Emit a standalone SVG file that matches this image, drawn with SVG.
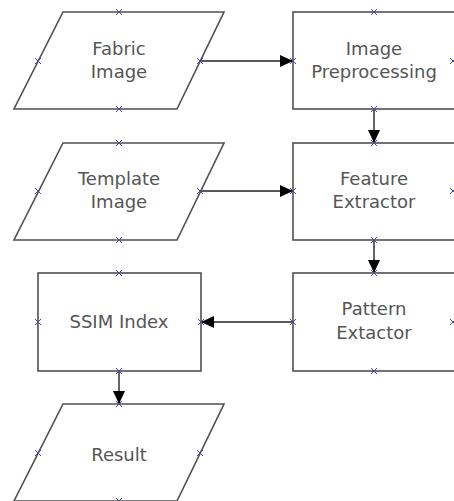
<svg xmlns="http://www.w3.org/2000/svg" width="454" height="501" viewBox="0 0 454 501">
<style>
.shape{fill:#fff;stroke:#505050;stroke-width:1.6}
.lbl{font-family:"DejaVu Sans","Liberation Sans",sans-serif;font-size:18px;fill:#555;text-anchor:middle}
.pt{stroke:#4646a8;stroke-width:1;fill:none}
.conn{stroke:#222;stroke-width:1.4;fill:none;marker-end:url(#ah)}
</style>
<defs>
<marker id="ah" markerUnits="userSpaceOnUse" markerWidth="14" markerHeight="12" refX="13" refY="6" orient="auto">
<path d="M0,0 L13,6 L0,12 z" fill="#000"/>
</marker>
<path id="x" d="M-3,-3 L3,3 M-3,3 L3,-3"/>
</defs>
<rect width="454" height="501" fill="#fff"/>
<g id="connectors">
<line class="conn" x1="200" y1="61" x2="293" y2="61"/>
<line class="conn" x1="200" y1="191" x2="293" y2="191"/>
<line class="conn" x1="374" y1="109" x2="374" y2="143"/>
<line class="conn" x1="374" y1="240" x2="374" y2="273"/>
<line class="conn" x1="293" y1="322" x2="201" y2="322"/>
<line class="conn" x1="119" y1="371" x2="119" y2="404"/>
</g>
<g id="fabric">
<polygon class="shape" points="63,12 224,12 177,109 14,109"/>
<text class="lbl" x="119" y="55">Fabric</text>
<text class="lbl" x="119" y="78">Image</text>
<g class="pt"><use href="#x" x="119" y="12"/><use href="#x" x="119" y="109"/><use href="#x" x="38" y="61"/><use href="#x" x="200" y="61"/></g>
</g>
<g id="preprocessing">
<rect class="shape" x="293" y="12" width="163" height="97"/>
<text class="lbl" x="374" y="55">Image</text>
<text class="lbl" x="374" y="78">Preprocessing</text>
<g class="pt"><use href="#x" x="374" y="12"/><use href="#x" x="374" y="109"/><use href="#x" x="293" y="61"/><use href="#x" x="453" y="61"/></g>
</g>
<g id="template">
<polygon class="shape" points="63,143 224,143 177,240 14,240"/>
<text class="lbl" x="119" y="185">Template</text>
<text class="lbl" x="119" y="208">Image</text>
<g class="pt"><use href="#x" x="119" y="143"/><use href="#x" x="119" y="240"/><use href="#x" x="38" y="191"/><use href="#x" x="200" y="191"/></g>
</g>
<g id="feature">
<rect class="shape" x="293" y="143" width="163" height="97"/>
<text class="lbl" x="374" y="185">Feature</text>
<text class="lbl" x="374" y="208">Extractor</text>
<g class="pt"><use href="#x" x="374" y="143"/><use href="#x" x="374" y="240"/><use href="#x" x="293" y="191"/><use href="#x" x="453" y="191"/></g>
</g>
<g id="ssim">
<rect class="shape" x="38" y="273" width="163" height="98"/>
<text class="lbl" x="119" y="328">SSIM Index</text>
<g class="pt"><use href="#x" x="119" y="273"/><use href="#x" x="119" y="371"/><use href="#x" x="38" y="322"/><use href="#x" x="201" y="322"/></g>
</g>
<g id="pattern">
<rect class="shape" x="293" y="273" width="163" height="98"/>
<text class="lbl" x="374" y="315">Pattern</text>
<text class="lbl" x="374" y="339">Extactor</text>
<g class="pt"><use href="#x" x="374" y="273"/><use href="#x" x="374" y="371"/><use href="#x" x="293" y="322"/><use href="#x" x="453" y="322"/></g>
</g>
<g id="result">
<polygon class="shape" points="63,404 224,404 177,501 14,501"/>
<text class="lbl" x="119" y="461">Result</text>
<g class="pt"><use href="#x" x="119" y="404"/><use href="#x" x="119" y="501"/><use href="#x" x="38" y="453"/><use href="#x" x="200" y="453"/></g>
</g>
</svg>
